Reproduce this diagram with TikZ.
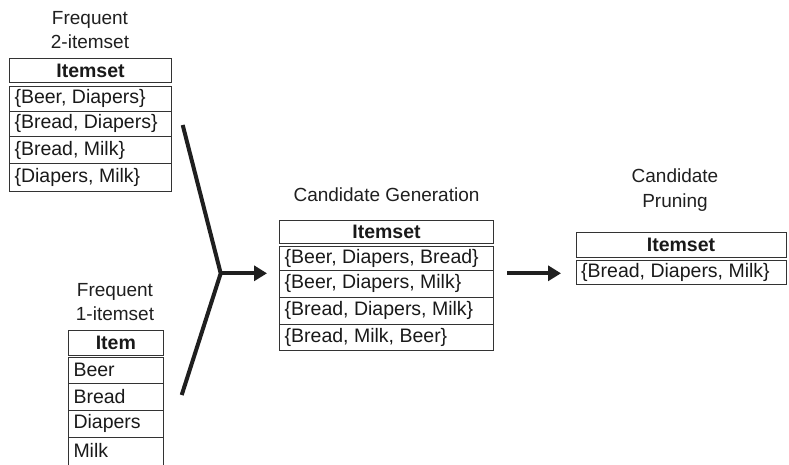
\documentclass[tikz,border=0pt]{standalone}
\usepackage{fontspec}
\setmainfont{Liberation Sans}
\usetikzlibrary{arrows.meta}
\tikzset{
  cell/.style={draw=black!80, line width=0.9pt, rectangle, inner sep=0pt, outer sep=0pt, anchor=north west},
  txt/.style={inner sep=0pt, anchor=west, font=\fontsize{19.5}{22}\selectfont, text=black!90},
  hdr/.style={inner sep=0pt, anchor=center, font=\fontsize{19.5}{22}\selectfont\bfseries, text=black!90},
  ttl/.style={inner sep=0pt, align=center, font=\fontsize{19}{24.5}\selectfont, text=black!88},
  fat/.style={line width=4pt, draw=black!88},
  tip/.style={-{Triangle[length=13pt,width=15pt]}}
}
\begin{document}
\begin{tikzpicture}[x=1pt,y=-1pt]
\useasboundingbox (0,0) rectangle (789,464);
\clip (0,0) rectangle (789,464);
% ---------- Table 1: frequent 2-itemset
\node[ttl] (t1title) at (90,30) {Frequent\\2-itemset};
\node[cell, minimum width=162.4pt, minimum height=24.4pt] (t1h) at (9.3,58.3) {};
\node[hdr] at (t1h.center) {Itemset};
\node[cell, minimum width=162.4pt, minimum height=25pt] (t1r1) at (9.3,86) {};
\node[cell, minimum width=162.4pt, minimum height=25.7pt] (t1r2) at (9.3,111) {};
\node[cell, minimum width=162.4pt, minimum height=26.6pt] (t1r3) at (9.3,136.7) {};
\node[cell, minimum width=162.4pt, minimum height=28.4pt] (t1r4) at (9.3,163.3) {};
\node[txt] at ([xshift=5pt]t1r1.west) {\{Beer, Diapers\}};
\node[txt] at ([xshift=5pt]t1r2.west) {\{Bread, Diapers\}};
\node[txt] at ([xshift=5pt]t1r3.west) {\{Bread, Milk\}};
\node[txt] at ([xshift=5pt]t1r4.west) {\{Diapers, Milk\}};
% ---------- Table 2: frequent 1-itemset
\node[ttl] (t2title) at (115,302) {Frequent\\1-itemset};
\node[cell, minimum width=95pt, minimum height=25pt] (t2h) at (68.3,330) {};
\node[hdr] at (t2h.center) {Item};
\node[cell, minimum width=95pt, minimum height=26pt] (t2r1) at (68.3,357.3) {};
\node[cell, minimum width=95pt, minimum height=26.7pt] (t2r2) at (68.3,383.3) {};
\node[cell, minimum width=95pt, minimum height=27.3pt] (t2r3) at (68.3,410) {};
\node[cell, minimum width=95pt, minimum height=30pt] (t2r4) at (68.3,437.3) {};
\node[txt] at ([xshift=5pt]t2r1.west) {Beer};
\node[txt] at ([xshift=5pt]t2r2.west) {Bread};
\node[txt] at ([xshift=5pt]t2r3.west) {Diapers};
\node[txt] at ([xshift=5pt,yshift=1.5pt]t2r4.west) {Milk};
% ---------- Table 3: candidate generation
\node[ttl] (t3title) at (386.5,195) {Candidate Generation};
\node[cell, minimum width=214pt, minimum height=23.3pt] (t3h) at (279.5,220) {};
\node[hdr] at (t3h.center) {Itemset};
\node[cell, minimum width=214pt, minimum height=24pt] (t3r1) at (279.5,246) {};
\node[cell, minimum width=214pt, minimum height=27.3pt] (t3r2) at (279.5,270) {};
\node[cell, minimum width=214pt, minimum height=26.7pt] (t3r3) at (279.5,297.3) {};
\node[cell, minimum width=214pt, minimum height=26.7pt] (t3r4) at (279.5,324) {};
\node[txt] at ([xshift=5pt]t3r1.west) {\{Beer, Diapers, Bread\}};
\node[txt] at ([xshift=5pt]t3r2.west) {\{Beer, Diapers, Milk\}};
\node[txt] at ([xshift=5pt]t3r3.west) {\{Bread, Diapers, Milk\}};
\node[txt] at ([xshift=5pt]t3r4.west) {\{Bread, Milk, Beer\}};
% ---------- Table 4: candidate pruning
\node[ttl] (t4title) at (675,190) {Candidate\\Pruning};
\node[cell, minimum width=210pt, minimum height=24.5pt] (t4h) at (576,232.7) {};
\node[hdr] at (t4h.center) {Itemset};
\node[cell, minimum width=210pt, minimum height=24.3pt] (t4r1) at (576,260) {};
\node[txt] at ([xshift=5pt]t4r1.west) {\{Bread, Diapers, Milk\}};
% ---------- connectors
\coordinate (top) at (182.7,125);
\coordinate (bot) at (181.7,395);
\coordinate (joint) at (220.7,273.3);
\coordinate (a1) at (267,273.3);
\coordinate (b0) at (507,273.3);
\coordinate (b1) at (561,273.3);
\draw[fat, line join=miter] (top) -- (joint) -- (bot);
\draw[fat, tip] (joint) -- (a1);
\draw[fat, tip] (b0) -- (b1);
\end{tikzpicture}
\end{document}
